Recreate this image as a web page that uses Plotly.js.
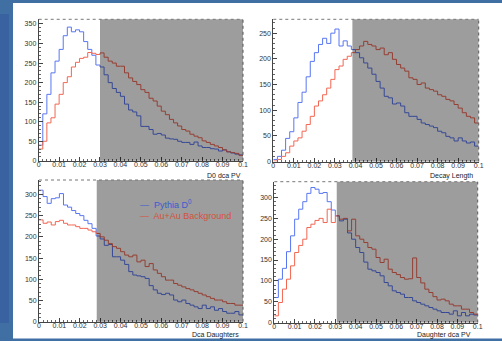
<!DOCTYPE html>
<html><head><meta charset="utf-8">
<script src="https://cdn.plot.ly/plotly-3.0.1.min.js"></script>
<style>html,body{margin:0;padding:0;background:#fff}#chart{width:502px;height:341px}</style>
</head><body><div id="chart"></div>
<script>
// Bin edges (0.002 wide bins from 0 to 0.1)
const binEdges = [0,0.002,0.004,0.006,0.008,0.010,0.012,0.014,0.016,0.018,0.020,0.022,0.024,0.026,0.028,0.030,0.032,0.034,0.036,0.038,0.040,0.042,0.044,0.046,0.048,0.050,0.052,0.054,0.056,0.058,0.060,0.062,0.064,0.066,0.068,0.070,0.072,0.074,0.076,0.078,0.080,0.082,0.084,0.086,0.088,0.090,0.092,0.094,0.096,0.098,0.100];

// Panel 1: D0 dca PV
const d0DcaPV_pythia = [40,120,170,225,255,285,320,342,330,335,330,305,285,270,245,240,220,200,185,175,165,145,130,125,115,88,88,80,68,70,66,58,56,55,50,47,47,42,48,38,34,34,31,30,25,28,23,20,17,15];
const d0DcaPV_auau   = [30,50,97,110,145,170,200,215,240,252,262,265,277,275,272,276,265,255,250,242,242,225,212,203,195,182,175,160,153,140,127,118,106,97,89,80,76,68,63,59,51,47,42,38,34,28,23,21,19,14];
// Panel 2: Decay Length
const decayLength_pythia = [4,10,22,45,58,85,115,135,165,195,212,228,240,230,250,258,225,235,225,218,212,202,192,182,170,156,143,127,124,112,114,108,95,88,88,82,75,72,69,66,59,56,49,46,40,46,40,36,38,30];
const decayLength_auau   = [1,4,10,17,30,40,46,59,72,88,108,118,130,143,160,179,186,199,205,212,218,225,234,228,225,218,221,208,212,199,189,182,176,163,160,150,153,143,140,137,130,127,121,118,111,104,95,88,85,75];
// Panel 3: Dca Daughters
const dcaDaughters_pythia = [310,295,279,290,292,302,275,270,262,255,250,239,231,220,202,195,180,182,153,153,145,135,118,110,108,106,102,85,75,67,64,67,63,51,47,51,43,39,35,31,39,31,35,27,31,24,20,20,24,16];
const dcaDaughters_auau   = [240,232,235,228,236,239,232,228,228,224,220,220,216,212,208,200,192,184,177,173,165,157,153,157,141,145,130,137,122,114,106,98,98,90,86,82,78,75,71,67,63,59,55,51,51,47,43,43,39,39];
// Panel 4: Daughter dca PV
const daughterDcaPV_pythia = [60,104,130,170,208,248,272,290,310,324,320,310,312,290,270,256,244,248,215,200,180,168,145,128,124,120,112,96,88,76,72,68,60,60,52,48,44,40,36,32,28,24,24,20,28,16,24,16,20,18];
const daughterDcaPV_auau   = [16,48,80,104,136,168,185,200,228,236,245,250,240,272,240,256,248,250,220,248,208,200,192,180,176,156,144,152,128,120,115,108,104,105,155,108,95,80,72,62,54,56,52,44,40,40,32,32,24,20];

const axisTitles = ["D0 dca PV","Decay Length","Dca Daughters","Daughter dca PV"];
const cuts = [0.03, 0.0385, 0.0283, 0.0307];
const yMax = [362, 277, 334, 338];
const legendNames = ["Pythia D<sup>0</sup>", "Au+Au Background"];

const W = 502, H = 341;
const BLUE = '#5876f2', RED = '#f26652';
// pixel frames [left, right, top, bottom]
const frames = [[38.7,243,19.3,160.8],[273.3,478.7,19.3,161.5],[39,243,180,321.7],[274.3,477.7,181.7,322.5]];
const titlePos = [[243,175.5],[475,175.5],[241,334.5],[473,335]];

const series = [
  [d0DcaPV_pythia, d0DcaPV_auau],
  [decayLength_pythia, decayLength_auau],
  [dcaDaughters_pythia, dcaDaughters_auau],
  [daughterDcaPV_pythia, daughterDcaPV_auau]
];

const FONT = 'Liberation Sans, Arial, sans-serif';
const data = [];
const layout = {
  width: W, height: H, margin: {l:0,r:0,t:0,b:0},
  paper_bgcolor: '#ffffff', plot_bgcolor: '#ffffff',
  showlegend: false, shapes: [], annotations: []
};

function stepY(v){ return v.concat([v[v.length-1]]); }

series.forEach((pair, i) => {
  const n = i === 0 ? '' : String(i+1);
  const xa = 'x'+n, ya = 'y'+n;
  const f = frames[i];
  const common = {
    ticks:'inside', ticklen:4, tickcolor:'#444', tickwidth:1,
    showline:true, linecolor:'#444', linewidth:1, mirror:false,
    showgrid:false, zeroline:false, fixedrange:true,
    tickfont:{family:FONT, size:7, color:'#333'}
  };
  layout['xaxis'+n] = Object.assign({}, common, {
    domain:[f[0]/W, f[1]/W], range:[0,0.1], anchor: ya, ticklabelstandoff:-3,
    tick0:0, dtick:0.01, minor:{ticks:'inside', ticklen:2, tickcolor:'#666', dtick:0.002}
  });
  layout['yaxis'+n] = Object.assign({}, common, {
    domain:[1-f[3]/H, 1-f[2]/H], range:[0,yMax[i]], anchor: xa, ticklabelstandoff:0,
    tick0:0, dtick:50, minor:{ticks:'inside', ticklen:2, tickcolor:'#666', dtick:10}
  });
  [BLUE, RED].forEach((c, k) => {
    data.push({type:'scatter', mode:'lines', x: binEdges, y: stepY(pair[k]),
      xaxis: xa, yaxis: ya, line:{shape:'hv', color:c, width:1}, hoverinfo:'skip',
      name: legendNames[k]});
  });
  // shaded region
  layout.shapes.push({type:'rect', xref:xa, yref:ya+' domain', x0:cuts[i], x1:0.1, y0:0, y1:1,
    fillcolor:'rgba(0,0,0,0.385)', line:{width:0}, layer:'above'});
  // dotted top/right frame
  layout.shapes.push({type:'line', xref:xa+' domain', yref:ya+' domain', x0:0, x1:1, y0:1, y1:1,
    line:{color:'#777', width:1, dash:'dot'}, layer:'above'});
  layout.shapes.push({type:'line', xref:xa+' domain', yref:ya+' domain', x0:1, x1:1, y0:0, y1:1,
    line:{color:'#555', width:1, dash:'dot'}, layer:'above'});
  layout.annotations.push({xref:'paper', yref:'paper', x:titlePos[i][0]/W, y:1-titlePos[i][1]/H,
    xanchor:'right', yanchor:'middle', showarrow:false, text: axisTitles[i],
    font:{family:FONT, size:7, color:'#222'}});
});

// Legend (bottom-left panel)
layout.annotations.push({xref:'paper', yref:'paper', x:138/W, y:1-204/H, xanchor:'left', yanchor:'middle',
  showarrow:false, text:'—  '+legendNames[0], font:{family:FONT, size:9, color:'#3b5bd0'}});
layout.annotations.push({xref:'paper', yref:'paper', x:138/W, y:1-215.5/H, xanchor:'left', yanchor:'middle',
  showarrow:false, text:'—  '+legendNames[1], font:{family:FONT, size:9, color:'#d8503c'}});

// Slide background strips
const SB = '#3f6fa3';
layout.shapes.push({type:'rect', xref:'paper', yref:'paper', x0:0, x1:1, y0:1-3/H, y1:1, fillcolor:SB, line:{width:0}, layer:'below'});
layout.shapes.push({type:'rect', xref:'paper', yref:'paper', x0:0, x1:13/W, y0:0, y1:1, fillcolor:SB, line:{width:0}, layer:'below'});
layout.shapes.push({type:'rect', xref:'paper', yref:'paper', x0:0, x1:9/W, y0:1-323/H, y1:1-14/H, fillcolor:'#3962a0', line:{width:0}, layer:'below'});
layout.shapes.push({type:'rect', xref:'paper', yref:'paper', x0:0, x1:1, y0:0, y1:2.5/H, fillcolor:SB, line:{width:0}, layer:'below'});

Plotly.newPlot('chart', data, layout, {staticPlot:true, displayModeBar:false});
</script>
</body></html>
